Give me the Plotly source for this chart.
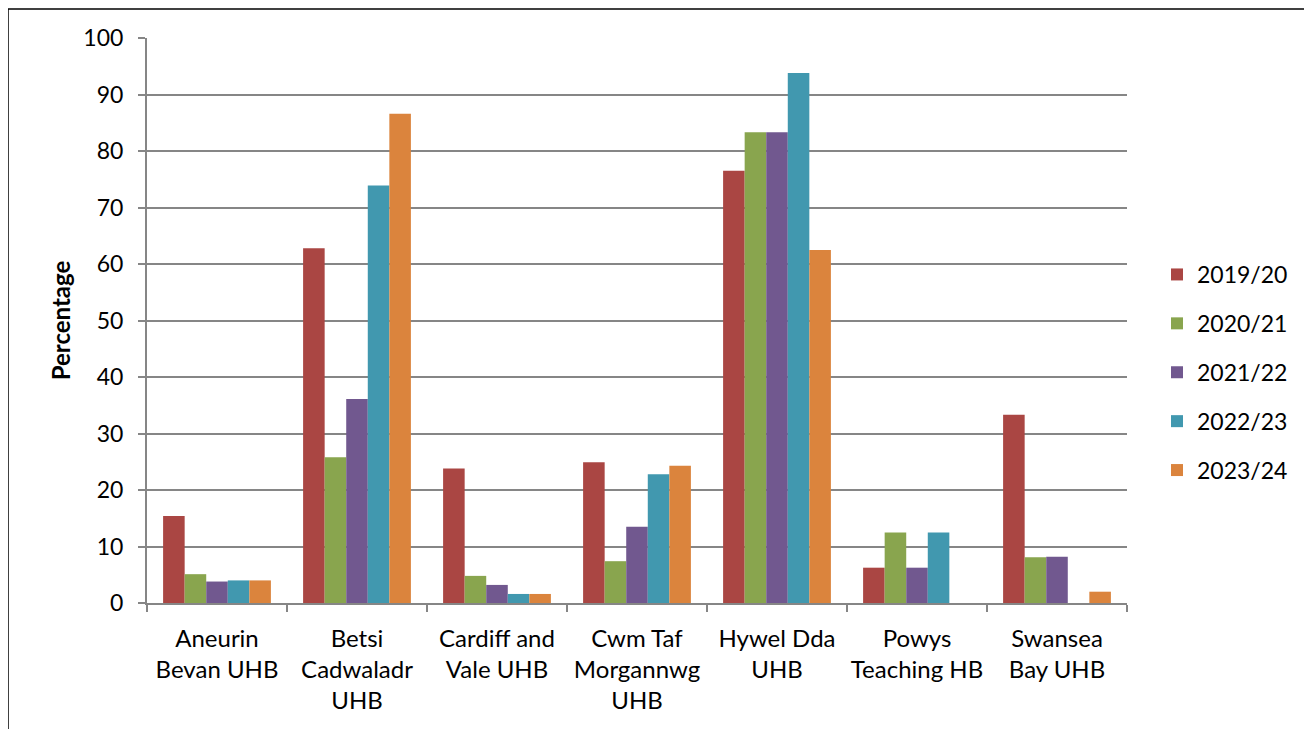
import plotly.graph_objects as go

categories = ["Aneurin<br>Bevan UHB", "Betsi<br>Cadwaladr<br>UHB", "Cardiff and<br>Vale UHB",
              "Cwm Taf<br>Morgannwg<br>UHB", "Hywel Dda<br>UHB", "Powys<br>Teaching HB", "Swansea<br>Bay UHB"]
series_names = ["2019/20", "2020/21", "2021/22", "2022/23", "2023/24"]
v_2019_20 = [15.4, 62.8, 23.8, 24.9, 76.5, 6.25, 33.3]
v_2020_21 = [5.1, 25.8, 4.8, 7.4, 83.3, 12.5, 8.1]
v_2021_22 = [3.8, 36.1, 3.2, 13.5, 83.3, 6.25, 8.2]
v_2022_23 = [4.0, 73.9, 1.6, 22.8, 93.8, 12.5, None]
v_2023_24 = [4.0, 86.6, 1.6, 24.3, 62.5, None, 2.0]
y_ticks = [0, 10, 20, 30, 40, 50, 60, 70, 80, 90, 100]

colors = ["#AA4643", "#89A54E", "#71588F", "#4198AF", "#DB843D"]
all_vals = [v_2019_20, v_2020_21, v_2021_22, v_2022_23, v_2023_24]

FONT = "Lato, Calibri, Carlito, sans-serif"

fig = go.Figure()
for name, vals, c in zip(series_names, all_vals, colors):
    fig.add_trace(go.Bar(x=categories, y=vals, name=name, legendgroup=name,
                         marker=dict(color=c, line=dict(width=0))))

# page body has an 8px margin; work in screen pixels and offset
OFF = 8
W, H = 1312 - OFF, 729 - OFF
PL, PR, PT, PB = 147, 1127, 38, 603  # plot area in screen px
L, R, T, B = PL - OFF, (W + OFF) - PR, PT - OFF, (H + OFF) - PB
pw, ph = PR - PL, PB - PT

def px_x(x):
    return (x - PL) / pw

def px_y(y):
    return (PB - y) / ph

fig.update_layout(
    width=W, height=H,
    margin=dict(l=L, r=R, t=T, b=B, autoexpand=False),
    paper_bgcolor="white", plot_bgcolor="white",
    barmode="group", bargap=0.23, bargroupgap=0,
    font=dict(family=FONT, size=23, color="black"),
    showlegend=True,
    legend=dict(x=px_x(1157), y=px_y(253), xanchor="left", yanchor="top",
                font=dict(size=23, family=FONT), traceorder="grouped",
                itemwidth=30, bgcolor="rgba(0,0,0,0)", tracegroupgap=16),
    xaxis=dict(showline=True, linecolor="#868686", linewidth=2,
               ticks="outside", tickson="boundaries", ticklen=7, tickcolor="#868686",
               tickwidth=2, tickfont=dict(size=24, family=FONT), showgrid=False,
               tickangle=0, ticklabelstandoff=13),
    yaxis=dict(range=[0, 100], tickvals=y_ticks, showline=True, linecolor="#868686",
               linewidth=2, ticks="outside", ticklen=7, tickcolor="#868686", tickwidth=2,
               showgrid=True, gridcolor="#868686", gridwidth=2,
               tickfont=dict(size=23, family=FONT), zeroline=False, ticklabelstandoff=10,
               title=dict(text="<b>Percentage</b>", font=dict(size=24, family=FONT), standoff=6)),
)

# outer chart border
x0, x1 = px_x(8), px_x(1308)
yt, yb = px_y(9), px_y(780)
for (ax0, ay0, ax1, ay1) in [(x0, yt, x1, yt), (x0, yt, x0, yb), (x1, yt, x1, yb)]:
    fig.add_shape(type="line", xref="paper", yref="paper", x0=ax0, y0=ay0, x1=ax1, y1=ay1,
                  line=dict(color="black", width=1.5))

fig.write_html("out.html")
